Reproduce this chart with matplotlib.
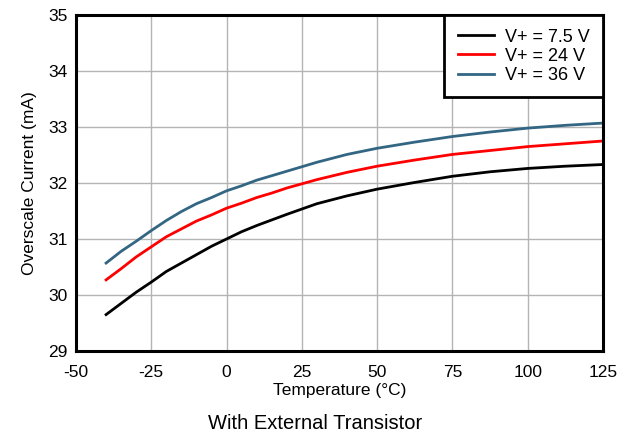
import matplotlib
matplotlib.use("Agg")
import matplotlib.pyplot as plt

plt.rcParams['font.family'] = ['Liberation Sans', 'DejaVu Sans']
plt.rcParams['axes.unicode_minus'] = False

temp = [-40, -35, -30, -25, -20, -15, -10, -5, 0, 5, 10, 15, 20, 30, 40, 50,
        62.5, 75, 87.5, 100, 112.5, 125]
i_7v5 = [29.65, 29.85, 30.05, 30.23, 30.42, 30.57, 30.72, 30.87, 31.00, 31.13,
         31.24, 31.34, 31.44, 31.63, 31.77, 31.89, 32.01, 32.12, 32.20, 32.26,
         32.30, 32.33]
i_24v = [30.27, 30.47, 30.68, 30.86, 31.04, 31.18, 31.32, 31.43, 31.55, 31.64,
         31.74, 31.82, 31.91, 32.06, 32.19, 32.30, 32.41, 32.51, 32.58, 32.65,
         32.70, 32.75]
i_36v = [30.57, 30.78, 30.96, 31.15, 31.33, 31.49, 31.63, 31.74, 31.86, 31.95,
         32.05, 32.13, 32.21, 32.37, 32.51, 32.62, 32.73, 32.83, 32.91, 32.98,
         33.03, 33.07]

fig = plt.figure(figsize=(6.31, 4.37), dpi=100)
ax = fig.add_axes([0.1204, 0.1968, 0.8352, 0.7689])

ax.plot(temp, i_7v5, color='black', lw=2, label='V+ = 7.5 V')
ax.plot(temp, i_24v, color='red', lw=2, label='V+ = 24 V')
ax.plot(temp, i_36v, color='#336683', lw=2, label='V+ = 36 V')

ax.set_xlim(-50, 125)
ax.set_ylim(29, 35)
ax.set_xticks(range(-50, 126, 25))
ax.set_yticks(range(29, 36))
ax.grid(color='#b4b4b4', linewidth=1)
ax.tick_params(length=0, labelsize=12.5)
ax.tick_params(axis='x', pad=10)
ax.tick_params(axis='y', pad=6)
for s in ax.spines.values():
    s.set_linewidth(2.2)

ax.set_xlabel('Temperature (°C)', fontsize=12.5, labelpad=2)
ax.set_ylabel('Overscale Current (mA)', fontsize=12.5, labelpad=8)

leg = ax.legend(loc='upper right', fontsize=13, fancybox=False, framealpha=1,
                edgecolor='black', handlelength=2.0, handletextpad=0.6,
                borderaxespad=0, labelspacing=0.12, borderpad=0.75)
leg.get_frame().set_linewidth(2)

fig.text(0.5, 0.018, 'With External Transistor', ha='center', fontsize=14.5)

fig.savefig('out.png', dpi=100)
